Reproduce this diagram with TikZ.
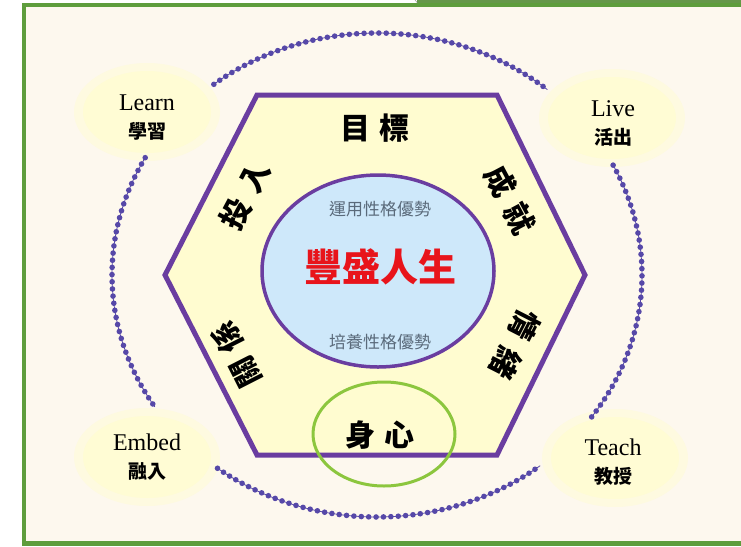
\documentclass[tikz,border=0pt]{standalone}
\usepackage{fontspec}
\setmainfont{Liberation Serif}
\newfontfamily\cjk{Noto Sans CJK TC}
\usetikzlibrary{shapes.geometric}
\definecolor{hexpurple}{RGB}{106,61,160}
\definecolor{dotpurple}{RGB}{86,72,168}
\definecolor{framegreen}{RGB}{94,157,60}
\definecolor{ringgreen}{RGB}{140,198,62}
\definecolor{cream}{RGB}{253,248,238}
\definecolor{hexyellow}{RGB}{255,252,208}
\definecolor{glowyellow}{RGB}{255,252,212}
\definecolor{coreblue}{RGB}{206,232,250}
\definecolor{lifered}{RGB}{232,20,27}
\definecolor{subgray}{RGB}{90,106,122}
\begin{document}
\begin{tikzpicture}[x=1pt, y=-1pt,
    bead/.style={fill=dotpurple},
    edgelabel/.style={font=\cjk\bfseries\fontsize{30}{30}\selectfont, inner sep=0pt},
    cornerlabel/.style={align=center, font=\fontsize{24}{27}\selectfont, inner sep=0pt},
    coretext/.style={font=\cjk\fontsize{17}{17}\selectfont, text=subgray, inner sep=0pt}]
    \useasboundingbox (0,0) rectangle (741,546);
    \fill [white] (0,0) rectangle (741,546);
    \fill [cream] (24,5) rectangle (741,544);
    \fill [framegreen!80!gray] (417,0) rectangle (741,5);
    \draw [gray, thin] (415,0) -- (419,5);
    \draw [framegreen, line width=4.5pt] (24,5) rectangle (760,543.5);
    \foreach \name/\bx/\by/\tx/\ty/\en/\zh in {learn/147/112/147/118/Learn/學習,
      live/612/118/613/123/Live/活出, embed/147/457/147/457/Embed/融入,
      teach/615/458/613/462/Teach/教授} {
      \fill [glowyellow!55!cream] (\bx,\by) ellipse [x radius=73, y radius=49];
      \fill [glowyellow] (\bx,\by) ellipse [x radius=64, y radius=41];
      \node [cornerlabel] (\name) at (\tx,\ty)
        {\en\\[1pt]{\cjk\bfseries\fontsize{19}{19}\selectfont\zh}};
    }
    \def\cx{377} \def\cy{275}
    \foreach \a/\b/\s in {-128/-50/1.6, -151/-213/-1.7, -27/36/1.7, 127/52/-1.6} {
      \draw [dotpurple, line width=0.8pt] (\cx,\cy) ++(\a:265 and 242)
        arc [start angle=\a, end angle=\b, x radius=265, y radius=242];
      \pgfmathsetmacro\nxt{\a+\s}
      \foreach \t in {\a,\nxt,...,\b}
        \fill [bead] (\cx,\cy) ++(\t:265 and 242) circle [radius=2.8pt];
    }
    \draw [hexpurple, line width=5pt, fill=hexyellow] (257,95) -- (497,95)
      -- (585,275) -- (497,455) -- (257,455) -- (165,275) -- cycle;
    \node [ellipse, draw=hexpurple, line width=3.5pt, fill=coreblue,
      minimum width=232, minimum height=192] (core) at (378,271) {};
    \node [coretext] (apply) at (380,209) {運用性格優勢};
    \node [coretext] (grow) at (380,342) {培養性格優勢};
    \node [font=\cjk\bfseries\fontsize{38}{38}\selectfont, text=lifered,
      inner sep=0pt] (life) at (380,267) {豐盛人生};
    \node [edgelabel] (goal) at (375,128) {目\hspace{9pt}標};
    \node [edgelabel, rotate=-62] (achieve) at (510,200) {成\hspace{12pt}就};
    \node [edgelabel, rotate=62] (engage) at (245,195) {投\hspace{12pt}入};
    \node [edgelabel, rotate=117] (relation) at (236,355) {關\hspace{10pt}係};
    \node [edgelabel, rotate=-117] (emotion) at (515,344) {情\hspace{12pt}緒};
    \node [edgelabel] (health) at (380,435) {身\hspace{10pt}心};
    \node [ellipse, draw=ringgreen, line width=3pt, minimum width=142,
      minimum height=104] (ring) at (384,434) {};
  \end{tikzpicture}
\end{document}
